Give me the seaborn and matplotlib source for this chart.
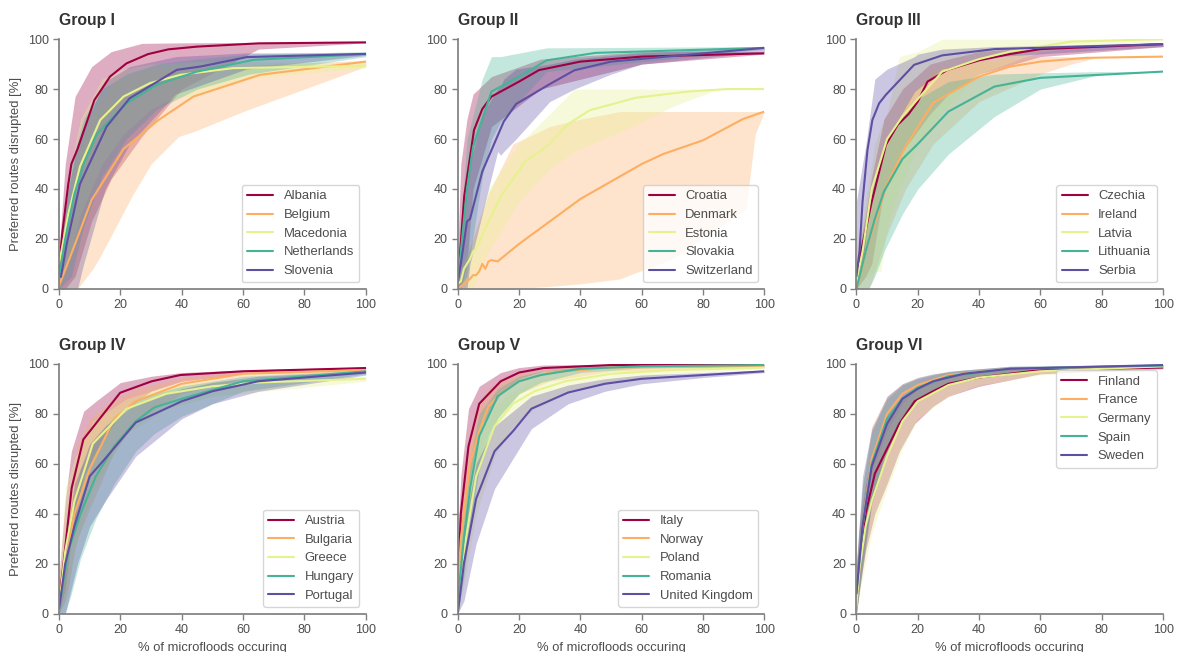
import matplotlib
matplotlib.use("Agg")
import matplotlib.pyplot as plt
import seaborn as sns
import pandas as pd

# ---------------- data ----------------
# each country: x / mean curve, band x / low / high envelope
albania = dict(x=[0, 1, 3, 4, 6, 11.5, 16.6, 22, 29, 35.6, 45, 65, 100],
               y=[8, 22, 42, 50, 56, 75.6, 85, 90.3, 94, 95.9, 97, 98.3, 98.7],
               bx=[0, 2, 5.2, 10.6, 17, 27, 40, 65, 100],
               hi=[15, 50, 77, 89, 95, 98.3, 98.5, 98.7, 98.8],
               lo=[0, 0, 5, 27, 44, 61, 80, 96, 98.5])
belgium = dict(x=[0, 3.6, 10.6, 21, 32.4, 43.8, 65.5, 100],
               y=[1.5, 12.8, 35.6, 56, 67.6, 77, 85.7, 91],
               bx=[0, 4, 6, 11, 12.8, 18, 23.7, 30, 39, 44, 60, 80, 100],
               hi=[4, 40, 55, 70, 73, 83, 86, 88, 88, 88, 89.5, 90.5, 91.5],
               lo=[0, 0, 0, 8, 11.6, 23.6, 37, 50, 61, 63, 71, 80, 89])
macedonia = dict(x=[0, 3, 6.8, 13.4, 21, 29.7, 39.5, 56.8, 100],
                 y=[10, 30, 49, 67.6, 77, 82.4, 85.7, 88.4, 89.3],
                 bx=[0, 3, 7, 14, 21, 30, 38, 44, 60, 100],
                 hi=[15, 45, 68, 84, 88, 90, 90.5, 91, 91, 90.5],
                 lo=[0, 10, 30, 50, 62, 72, 77, 77, 84, 88.5])
netherlands = dict(x=[0, 2, 5, 8, 12.3, 22, 31.8, 45, 63.4, 100],
                   y=[5, 20, 38, 50, 62, 74.3, 81.7, 87, 91.7, 94],
                   bx=[0, 4, 8, 14, 22, 32, 45, 62, 100],
                   hi=[12, 50, 68, 80, 86, 90, 92, 94, 95],
                   lo=[0, 5, 25, 45, 60, 72, 80, 86, 93])
slovenia = dict(x=[0.6, 2.5, 6.8, 15.5, 23, 38.4, 46, 61.2, 100],
                y=[4.8, 18, 42, 65, 76.3, 87.7, 89, 92.8, 94.1],
                bx=[0, 3, 6, 8, 15, 23, 38, 61, 100],
                hi=[12, 40, 58, 65, 83, 89, 93, 94.5, 94.5],
                lo=[0, 0, 0, 10, 40, 58, 78, 88, 93.5])

croatia = dict(x=[0, 0.5, 2.1, 5.3, 8, 11, 20, 26.5, 40, 60, 100],
               y=[3, 10, 37, 63.6, 72, 77, 83, 87.6, 91, 93, 94.3],
               bx=[0, 1, 3, 5, 11, 27, 60, 100],
               hi=[15, 50, 68, 78, 85, 92, 95, 95],
               lo=[0, 0, 10, 40, 65, 80, 90, 94])
denmark = dict(x=[0, 1, 4, 5, 6, 7, 8, 9, 10, 11, 13, 20, 30, 40, 50, 60, 67, 80, 93, 100],
               y=[0, 1, 4, 5.5, 5.5, 7, 10, 8, 11, 11.5, 11, 18, 27, 36, 43, 50, 54, 59.5, 68, 71],
               bx=[0, 5, 10, 18, 30, 40, 53, 57, 70, 94, 97, 100],
               hi=[3, 20, 38, 58, 65, 68, 71, 71, 71, 71, 71, 71],
               lo=[0, 0, 0, 0, 1, 2, 4, 6, 12, 32, 62, 71])
estonia = dict(x=[0, 1, 2, 4, 5, 6, 10, 14, 22, 29, 36, 43, 58, 75, 88, 100],
               y=[2, 3, 8, 12, 15, 16, 27, 37, 51, 57, 66, 71.5, 76.5, 79, 80, 80],
               bx=[0, 5, 10, 20, 30, 38, 55, 70, 85, 100],
               hi=[5, 20, 40, 58, 70, 80, 80, 80, 80, 80],
               lo=[0, 0, 15, 35, 48, 55, 64, 73, 80, 80])
slovakia = dict(x=[0, 1, 3, 5, 11, 20, 29, 45, 100],
                y=[3, 15, 40, 57, 79, 85, 91.5, 94.5, 96.5],
                bx=[0, 3, 8, 11, 14, 29, 100],
                hi=[10, 60, 84, 93, 93, 96.5, 97],
                lo=[0, 5, 45, 60, 67, 87, 96])
switzerland = dict(x=[0, 1, 3, 4, 8, 15, 19, 30, 38, 50, 100],
                   y=[3, 10, 27, 28, 47, 67, 74, 82, 87.5, 91, 96.5],
                   bx=[0, 3, 4, 8, 13, 14, 15, 19, 30, 38, 50, 60, 100],
                   hi=[8, 45, 50, 70, 80, 81, 84, 88, 90, 92, 93.5, 94.5, 97],
                   lo=[0, 0, 10, 30, 55, 53.5, 55, 60, 75, 80, 86, 90, 95])

czechia = dict(x=[0, 1, 5, 9.6, 13.4, 17, 20, 23.2, 29.7, 40, 50, 60, 100],
               y=[5, 12, 35, 57.6, 65.6, 70, 75, 83, 87.7, 91.5, 94, 96, 98],
               bx=[0, 3, 5, 9, 15, 24, 30, 40, 60, 100],
               hi=[10, 30, 45, 68, 80, 90, 92, 95, 97, 98.5],
               lo=[0, 5, 10, 40, 55, 70, 78, 86, 93, 97])
ireland = dict(x=[0, 3, 10, 16, 25, 30, 40, 50, 60, 75, 100],
               y=[0, 15, 42, 57, 74.5, 78, 85, 89, 91, 92.5, 93],
               bx=[0, 4, 5, 10, 16, 25, 40, 60, 70, 80, 100],
               hi=[5, 30, 35, 58, 75, 88, 91, 93, 93, 93, 93],
               lo=[0, 0, 3, 22, 40, 58, 75, 86, 90, 93, 93])
latvia = dict(x=[0, 2, 5, 10, 15, 20, 28, 40, 50, 70, 100],
              y=[3, 15, 40, 60, 69, 76, 87, 92, 95, 99, 100],
              bx=[0, 3, 5, 6, 8, 10, 14, 20, 28, 40, 60, 100],
              hi=[10, 35, 50, 58, 65, 70, 93, 95, 100, 100, 100, 100],
              lo=[0, 5, 6, 7, 7, 25, 40, 58, 71, 86, 95, 99.5])
lithuania = dict(x=[0, 3, 6, 9, 15, 20, 30, 45, 60, 100],
                 y=[0, 15, 28, 39, 52, 58, 71, 81, 84.5, 87],
                 bx=[0, 4, 6, 9, 15, 20, 30, 45, 60, 80, 100],
                 hi=[8, 35, 45, 55, 70, 76, 83, 86, 86.5, 87, 87],
                 lo=[0, 0, 5, 15, 30, 40, 54, 69, 80, 86, 87])
serbia = dict(x=[0, 1, 2, 3.6, 5.2, 7.4, 9.6, 18.8, 28, 45, 100],
              y=[5, 15, 35, 55.6, 67.6, 74.3, 77.7, 89.7, 93.5, 96, 98],
              bx=[0, 2, 3, 5, 6, 10, 19, 20, 28, 45, 100],
              hi=[35, 50, 57, 75, 84, 88, 93, 94, 96, 97, 98.5],
              lo=[0, 10, 20, 40, 45, 60, 79, 80, 88, 93, 97])

austria = dict(x=[0, 1.4, 4.1, 7.9, 19.9, 30.2, 39.5, 60, 100],
               y=[5, 19.5, 50.3, 69.7, 88.4, 93, 95.5, 97, 98.3],
               bx=[0, 2, 4, 8, 12, 20, 30, 40, 60, 100],
               hi=[15, 45, 65, 81, 85, 92.5, 95, 96.5, 97.5, 98.7],
               lo=[0, 10, 30, 55, 65, 80, 89, 93, 96, 98])
bulgaria = dict(x=[0, 2, 5, 10, 18, 25, 40, 60, 100],
                y=[3, 20, 40, 58, 78, 85, 92, 96, 97.5],
                bx=[0, 2, 3, 5, 6, 10, 18, 25, 40, 60, 100],
                hi=[10, 30, 45, 60, 68, 78, 86, 90, 94.5, 97, 98.3],
                lo=[0, 5, 10, 25, 30, 42, 65, 77, 88, 94, 97])
greece = dict(x=[0, 2, 5, 11, 22, 35, 50, 65, 100],
              y=[3, 25, 45, 68, 82, 88, 91, 92.5, 94],
              bx=[0, 2, 5, 11, 22, 35, 50, 100],
              hi=[15, 50, 62, 77, 86, 91, 93, 95],
              lo=[0, 5, 25, 50, 72, 82, 87, 93])
hungary = dict(x=[0, 3, 7, 12, 18, 25, 31, 40, 60, 100],
               y=[2, 25, 40, 55, 67, 77, 82.5, 86, 93, 97],
               bx=[0, 2, 4, 7, 12, 18, 25, 31, 40, 60, 100],
               hi=[5, 30, 40, 58, 70, 79, 85, 88, 91, 95, 97.5],
               lo=[0, 0, 8, 22, 38, 52, 65, 72, 79, 89, 96])
portugal = dict(x=[0, 2, 5, 10, 15, 25, 40, 50, 65, 100],
                y=[2, 20, 35, 55, 62, 76.5, 85, 89, 93, 96.5],
                bx=[0, 2, 3, 5, 6, 10, 15, 25, 40, 50, 65, 100],
                hi=[5, 30, 35, 52, 55, 68, 75, 84, 90, 92.5, 95, 97],
                lo=[0, 0, 5, 15, 20, 35, 45, 63, 78, 84, 89, 95.5])

italy = dict(x=[0, 1, 3.5, 7, 14, 20, 28, 50, 100],
             y=[10, 40, 67, 84, 93, 96.5, 98.3, 99.5, 99.5],
             hi=[30, 55, 82, 91, 96.5, 98.5, 99.5, 99.8, 99.8],
             lo=[0, 20, 50, 74, 88, 94, 97, 99, 99.3])
norway = dict(x=[0, 1, 4, 7, 10, 14, 20, 30, 50, 100],
              y=[8, 30, 60, 73, 83, 88, 93, 96.5, 98.5, 99],
              hi=[20, 45, 72, 84, 90, 93, 96, 98, 99.2, 99.5],
              lo=[0, 15, 45, 60, 72, 80, 88, 93, 97, 98.5])
poland = dict(x=[0, 2, 6, 12, 18, 25, 35, 50, 70, 100],
              y=[5, 25, 55, 75, 84, 89, 93, 96, 97.5, 98.5],
              hi=[15, 42, 68, 83, 89, 93, 95.5, 97.5, 98.5, 99],
              lo=[0, 12, 40, 63, 75, 82, 88, 93, 96, 98])
romania = dict(x=[0, 2, 4, 7, 13, 20, 27, 40, 60, 100],
               y=[5, 30, 50, 71, 87, 93, 95.5, 98, 99, 99.5],
               hi=[15, 45, 62, 80, 90, 95, 97, 98.8, 99.5, 99.8],
               lo=[0, 15, 35, 58, 78, 88, 92.5, 96.5, 98.3, 99.2])
united_kingdom = dict(x=[0, 2, 6, 12, 18, 24, 36, 48, 60, 80, 100],
                      y=[0, 20, 46, 65, 73, 82, 88.5, 92, 94, 95.5, 97],
                      hi=[5, 35, 60, 75, 81, 87, 91.5, 94, 95.5, 96.5, 97.5],
                      lo=[0, 5, 28, 50, 62, 74, 84, 89, 92, 94.5, 96.5])

finland = dict(x=[0, 1, 3, 6, 10, 14, 19, 25, 30, 40, 60, 100],
               y=[5, 22, 40, 56, 66, 76, 85, 89, 92, 94.5, 97.5, 98.5],
               hi=[15, 35, 52, 68, 78, 85, 90, 93, 95, 97, 98.5, 99],
               lo=[0, 10, 25, 40, 52, 65, 76, 83, 87, 91, 96, 98])
france = dict(x=[0, 2, 5, 10, 15, 20, 30, 50, 100],
              y=[8, 35, 62, 80, 88, 91.5, 95.5, 98, 99],
              hi=[20, 50, 75, 87, 92, 94.5, 97, 98.8, 99.5],
              lo=[0, 20, 48, 70, 80, 86, 92, 96.5, 98.5])
germany = dict(x=[0, 1, 3, 5, 10, 15, 20, 30, 40, 60, 100],
               y=[3, 18, 35, 45, 63, 77, 85, 91.5, 94.5, 97, 99],
               hi=[10, 30, 48, 57, 73, 84, 90, 94.5, 96.5, 98.3, 99.5],
               lo=[0, 8, 20, 32, 50, 66, 78, 87, 91.5, 95.5, 98.5])
spain = dict(x=[0, 2, 5, 10, 15, 20, 30, 50, 100],
             y=[8, 35, 60, 78, 86, 90.5, 95, 98, 99.3],
             hi=[20, 52, 73, 86, 91.5, 94, 97, 99, 99.7],
             lo=[0, 20, 45, 68, 79, 85, 92, 96.5, 98.8])
sweden = dict(x=[0, 2, 5, 10, 15, 20, 25, 35, 50, 100],
              y=[8, 35, 59, 76, 86, 90, 93, 96, 98, 99.5],
              hi=[20, 55, 74, 87, 92, 94.5, 96, 97.5, 99, 99.8],
              lo=[0, 18, 44, 64, 78, 85, 89, 93.5, 96.5, 99])

group_titles = ["Group I", "Group II", "Group III", "Group IV", "Group V", "Group VI"]
group_countries = [
    [("Albania", albania), ("Belgium", belgium), ("Macedonia", macedonia),
     ("Netherlands", netherlands), ("Slovenia", slovenia)],
    [("Croatia", croatia), ("Denmark", denmark), ("Estonia", estonia),
     ("Slovakia", slovakia), ("Switzerland", switzerland)],
    [("Czechia", czechia), ("Ireland", ireland), ("Latvia", latvia),
     ("Lithuania", lithuania), ("Serbia", serbia)],
    [("Austria", austria), ("Bulgaria", bulgaria), ("Greece", greece),
     ("Hungary", hungary), ("Portugal", portugal)],
    [("Italy", italy), ("Norway", norway), ("Poland", poland),
     ("Romania", romania), ("United Kingdom", united_kingdom)],
    [("Finland", finland), ("France", france), ("Germany", germany),
     ("Spain", spain), ("Sweden", sweden)],
]
legend_locs = ["lower right"] * 5 + ["upper right"]

palette = ["#9e0142", "#fdae61", "#e6f28e", "#45b396", "#5e4fa2"]

# ---------------- style ----------------
sns.set_theme(style="ticks")
plt.rcParams["font.family"] = ["Liberation Sans", "DejaVu Sans"]
plt.rcParams["axes.edgecolor"] = "#808080"
plt.rcParams["xtick.color"] = "#808080"
plt.rcParams["ytick.color"] = "#808080"
plt.rcParams["xtick.labelcolor"] = "#4d4d4d"
plt.rcParams["ytick.labelcolor"] = "#4d4d4d"
plt.rcParams["axes.labelcolor"] = "#4d4d4d"

fig, axes = plt.subplots(2, 3, figsize=(11.82, 6.52), dpi=100)
fig.subplots_adjust(left=0.05, right=0.984, top=0.94, bottom=0.059,
                    wspace=0.30, hspace=0.30)

for i, ax in enumerate(axes.flat):
    countries = group_countries[i]
    for (name, d), col in zip(countries, palette):
        bx = d.get("bx", d["x"])
        ax.fill_between(bx, d["lo"], d["hi"], color=col, alpha=0.32, linewidth=0)
    for (name, d), col in zip(countries, palette):
        df = pd.DataFrame({"x": d["x"], "y": d["y"]})
        sns.lineplot(data=df, x="x", y="y", ax=ax, color=col, linewidth=1.5,
                     estimator=None, sort=False, label=name)
    ax.set_xlim(0, 100)
    ax.set_ylim(0, 100)
    ax.set_xticks([0, 20, 40, 60, 80, 100])
    ax.set_yticks([0, 20, 40, 60, 80, 100])
    ax.tick_params(labelsize=9, length=4, width=1)
    sns.despine(ax=ax)
    ax.set_title(group_titles[i], loc="left", fontsize=11.3, fontweight="bold",
                 color="#333333", pad=10)
    ax.set_xlabel("% of microfloods occuring" if i >= 3 else "", fontsize=9.4)
    ax.set_ylabel("Preferred routes disrupted [%]" if i % 3 == 0 else "", fontsize=9.4)
    leg = ax.legend(loc=legend_locs[i], fontsize=9.4, frameon=True, fancybox=True)
    leg.get_frame().set_edgecolor("#cccccc")
    for t in leg.get_texts():
        t.set_color("#4d4d4d")

fig.savefig("out.png", dpi=100)
